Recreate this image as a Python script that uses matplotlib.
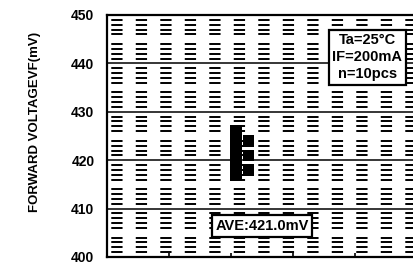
import numpy as np
import matplotlib
matplotlib.use("Agg")
import matplotlib.pyplot as plt

# measured forward voltages (mV), n = 10
vf_values = [426, 424, 424, 422, 421, 421, 419, 418, 418, 417]
# horizontal slot of each point (duplicates pushed to the right)
vf_slot = [0, 0, 1, 0, 0, 1, 0, 0, 1, 0]
y_ticks = [400, 410, 420, 430, 440, 450]
x_ticks = [1, 2, 3, 4]
cond_text = "Ta=25\u00b0C\nIF=200mA\nn=10pcs"
ave_text = "AVE:421.0mV"

plt.rcParams['font.family'] = ['Liberation Sans', 'DejaVu Sans']

fig = plt.figure(figsize=(4.14, 2.64), dpi=100)
ax = fig.add_axes([107 / 414, 7 / 264, 310 / 414, 242 / 264])
ax.set_xlim(0, 5)
ax.set_ylim(400, 450)

# dashed background rows every 1 mV
minor = [v for v in range(401, 450) if v % 5 != 0]
ax.hlines(minor, 0, 5, colors='black', linewidth=1.4,
          linestyles=(10.4, (5.8, 6.8)), zorder=1)
# solid major lines
ax.hlines(y_ticks[1:-1], 0, 5, colors='black', linewidth=1.1, zorder=2)

xs = [2.08 + 0.2 * s for s in vf_slot]
ax.scatter(xs, vf_values, marker='s', s=70, color='black', zorder=5,
           edgecolors='none')

ax.set_yticks(y_ticks)
ax.set_yticklabels([str(v) for v in y_ticks], fontweight='bold', fontsize=10)
ax.set_xticks(x_ticks)
ax.set_xticklabels([])
ax.tick_params(axis='y', length=0, pad=9)
ax.tick_params(axis='x', direction='in', length=3, width=1.2)

for sp in ax.spines.values():
    sp.set_linewidth(1.6)

ax.text(0.84, 441.3, cond_text, transform=ax.get_yaxis_transform(),
        ha='center', va='center', fontsize=10.5, fontweight='bold',
        linespacing=1.25, zorder=6,
        bbox=dict(boxstyle='square,pad=0.25', facecolor='white',
                  edgecolor='black', linewidth=1.6))

ax.text(2.5, 406.4, ave_text, ha='center', va='center', fontsize=10.5,
        fontweight='bold', zorder=6,
        bbox=dict(boxstyle='square,pad=0.25', facecolor='white',
                  edgecolor='black', linewidth=1.6))

fig.text(35 / 414, 0.54, "FORWARD VOLTAGEVF(mV)", rotation=90,
         ha='center', va='center', fontsize=9.5, fontweight='bold')

fig.savefig("out.png", dpi=100)
